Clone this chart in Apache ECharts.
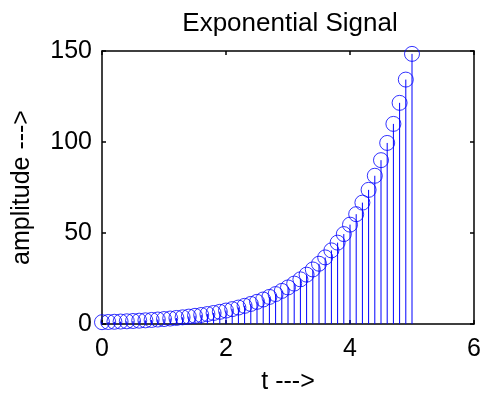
<!DOCTYPE html>
<html>
<head>
<meta charset="utf-8">
<script src="https://cdn.jsdelivr.net/npm/echarts@6/dist/echarts.min.js"></script>
<style>
  html, body { margin: 0; padding: 0; background: #fff; }
  #chart { width: 485px; height: 400px; }
</style>
</head>
<body>
<div id="chart"></div>
<script>
// Sample times (s) and amplitudes of the exponential signal
const tValues = [
  0.0, 0.1, 0.2, 0.3, 0.4, 0.5, 0.6, 0.7, 0.8, 0.9,
  1.0, 1.1, 1.2, 1.3, 1.4, 1.5, 1.6, 1.7, 1.8, 1.9,
  2.0, 2.1, 2.2, 2.3, 2.4, 2.5, 2.6, 2.7, 2.8, 2.9,
  3.0, 3.1, 3.2, 3.3, 3.4, 3.5, 3.6, 3.7, 3.8, 3.9,
  4.0, 4.1, 4.2, 4.3, 4.4, 4.5, 4.6, 4.7, 4.8, 4.9,
  5.0
];
const amplitude = [
  1.000, 1.105, 1.221, 1.350, 1.492, 1.649, 1.822, 2.014, 2.226, 2.460,
  2.718, 3.004, 3.320, 3.669, 4.055, 4.482, 4.953, 5.474, 6.050, 6.686,
  7.389, 8.166, 9.025, 9.974, 11.023, 12.182, 13.464, 14.880, 16.445, 18.174,
  20.086, 22.198, 24.533, 27.113, 29.964, 33.115, 36.598, 40.447, 44.701, 49.402,
  54.598, 60.340, 66.686, 73.700, 81.451, 90.017, 99.484, 109.947, 121.510, 134.290,
  148.413
];
const xTicks = [0, 2, 4, 6];
const yTicks = [0, 50, 100, 150];

const points = tValues.map((t, i) => [t, amplitude[i]]);
const FONT = 'Liberation Sans, Arial, sans-serif';
const STEM = '#0000ff';

const axisCommon = {
  axisLine: { show: true, onZero: false, lineStyle: { color: '#000', width: 1.5 } },
  axisTick: { show: true, inside: true, length: 4, lineStyle: { color: '#000', width: 1.5 } },
  splitLine: { show: false }
};

const chart = echarts.init(document.getElementById('chart'), null, { renderer: 'canvas' });
chart.setOption({
  animation: false,
  backgroundColor: '#fff',
  title: {
    text: 'Exponential Signal',
    left: 285, top: 6, textAlign: 'center',
    textStyle: { fontFamily: FONT, fontSize: 26, fontWeight: 'normal', color: '#000' }
  },
  grid: { left: 102, right: 11, top: 51, bottom: 75 },
  xAxis: [
    Object.assign({}, axisCommon, {
      type: 'value', min: xTicks[0], max: xTicks[xTicks.length - 1], interval: 2,
      position: 'bottom',
      name: 't --->', nameLocation: 'middle', nameGap: 46,
      nameTextStyle: { fontFamily: FONT, fontSize: 25, color: '#000' },
      axisLabel: { fontFamily: FONT, fontSize: 25, color: '#000', margin: 13 }
    }),
    Object.assign({}, axisCommon, {
      type: 'value', min: xTicks[0], max: xTicks[xTicks.length - 1], interval: 2,
      position: 'top', axisLabel: { show: false }
    })
  ],
  yAxis: [
    Object.assign({}, axisCommon, {
      type: 'value', min: yTicks[0], max: yTicks[yTicks.length - 1], interval: 50,
      position: 'left',
      name: 'amplitude --->', nameLocation: 'middle', nameGap: 67,
      nameTextStyle: { fontFamily: FONT, fontSize: 25, color: '#000' },
      axisLabel: { fontFamily: FONT, fontSize: 25, color: '#000', margin: 10 }
    }),
    Object.assign({}, axisCommon, {
      type: 'value', min: yTicks[0], max: yTicks[yTicks.length - 1], interval: 50,
      position: 'right', axisLabel: { show: false }
    })
  ],
  series: [
    {
      // vertical stems from the zero baseline up to each sample
      type: 'custom',
      data: points,
      clip: false,
      renderItem: function (params, api) {
        const top = api.coord([api.value(0), api.value(1)]);
        const base = api.coord([api.value(0), 0]);
        return {
          type: 'line',
          shape: { x1: top[0], y1: top[1], x2: base[0], y2: base[1] },
          style: { stroke: STEM, lineWidth: 1 }
        };
      }
    },
    {
      // open circle markers at each sample
      type: 'scatter',
      data: points,
      clip: false,
      symbol: 'circle',
      symbolSize: 15,
      itemStyle: { color: 'rgba(0,0,0,0)', borderColor: STEM, borderWidth: 1 }
    }
  ]
});
</script>
</body>
</html>
